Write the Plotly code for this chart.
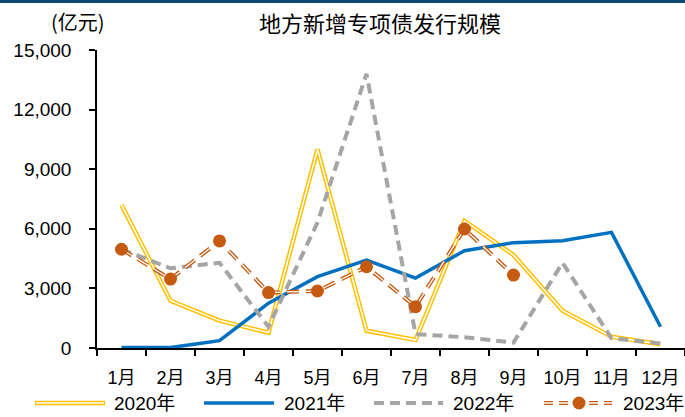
import plotly.graph_objects as go

months = ["1月", "2月", "3月", "4月", "5月", "6月", "7月", "8月", "9月", "10月", "11月", "12月"]
y2020 = [7200, 2380, 1380, 770, 10000, 870, 400, 6400, 4680, 1880, 570, 190]
y2021 = [20, 20, 370, 2260, 3590, 4430, 3520, 4900, 5300, 5400, 5820, 1070]
y2022 = [4970, 4010, 4290, 1070, 6320, 13800, 700, 540, 270, 4290, 490, 230]
y2023 = [4970, 3470, 5390, 2790, 2870, 4090, 2080, 5990, 3670]
series_names = ["2020年", "2021年", "2022年", "2023年"]

YEL = "#FFC000"
BLU = "#0070C0"
GRY = "#A5A5A5"
ORG = "#C55A11"

# plot-area geometry (pixels) used for converting decoration positions
L, R, T, B = 97, 685, 50, 348
W, H = R - L, B - T


def px(x):
    return (x - L) / W


def py(y):
    return (B - y) / H


fig = go.Figure()
fig.add_trace(go.Scatter(x=months, y=y2020, mode="lines", name=series_names[0],
                         line=dict(color=YEL, width=4.5)))
fig.add_trace(go.Scatter(x=months, y=y2020, mode="lines", hoverinfo="skip",
                         line=dict(color="white", width=1.5)))
fig.add_trace(go.Scatter(x=months, y=y2021, mode="lines", name=series_names[1],
                         line=dict(color=BLU, width=3.5)))
fig.add_trace(go.Scatter(x=months, y=y2022, mode="lines", name=series_names[2],
                         line=dict(color=GRY, width=4, dash="10px,6px")))
fig.add_trace(go.Scatter(x=months[:len(y2023)], y=y2023, mode="lines", name=series_names[3],
                         line=dict(color=ORG, width=4, dash="12px,7px")))
fig.add_trace(go.Scatter(x=months[:len(y2023)], y=y2023, mode="lines", hoverinfo="skip",
                         line=dict(color="white", width=1.3, dash="12px,7px")))
fig.add_trace(go.Scatter(x=months[:len(y2023)], y=y2023, mode="markers", hoverinfo="skip",
                         marker=dict(color=ORG, size=13)))

# manual legend (decoration)
ly = py(403)
shapes = [
    dict(type="rect", xref="paper", yref="paper", x0=px(0), x1=1, y0=py(3), y1=py(0),
         line=dict(width=0), fillcolor="#0B4A6E"),
    dict(type="line", xref="paper", yref="paper", x0=px(35), x1=px(105), y0=ly, y1=ly,
         line=dict(color=YEL, width=4.5)),
    dict(type="line", xref="paper", yref="paper", x0=px(36), x1=px(104), y0=ly, y1=ly,
         line=dict(color="white", width=1.5)),
    dict(type="line", xref="paper", yref="paper", x0=px(204), x1=px(274), y0=ly, y1=ly,
         line=dict(color=BLU, width=3.5)),
    dict(type="line", xref="paper", yref="paper", x0=px(374), x1=px(443), y0=ly, y1=ly,
         line=dict(color=GRY, width=4, dash="10px,6px")),
    dict(type="line", xref="paper", yref="paper", x0=px(544), x1=px(612), y0=ly, y1=ly,
         line=dict(color=ORG, width=4, dash="9px,6px")),
    dict(type="line", xref="paper", yref="paper", x0=px(544), x1=px(612), y0=ly, y1=ly,
         line=dict(color="white", width=1.3, dash="9px,6px")),
    dict(type="circle", xref="paper", yref="paper", xsizemode="pixel", ysizemode="pixel",
         xanchor=px(579), yanchor=ly, x0=-6.5, x1=6.5, y0=-6.5, y1=6.5,
         line=dict(width=0), fillcolor=ORG),
]

annotations = [
    dict(text="地方新增专项债发行规模", xref="paper", yref="paper", x=px(380), y=py(22),
         xanchor="center", yanchor="middle", showarrow=False,
         font=dict(family="Noto Sans CJK SC", size=22, color="black")),
    dict(text="(亿元)", xref="paper", yref="paper", x=px(78), y=py(22),
         xanchor="center", yanchor="middle", showarrow=False,
         font=dict(family="Noto Sans CJK SC", size=20, color="black")),
]
for name, xpos in zip(series_names, [112, 282, 451, 621]):
    annotations.append(dict(text=name, xref="paper", yref="paper", x=px(xpos), y=ly,
                            xanchor="left", yanchor="middle", showarrow=False,
                            font=dict(size=19, color="black")))

fig.update_layout(
    width=685, height=417,
    margin=dict(l=L, r=685 - R, t=T, b=417 - B, autoexpand=False),
    paper_bgcolor="white", plot_bgcolor="white",
    font=dict(family="Liberation Sans, Arial, Noto Sans CJK SC", size=16, color="black"),
    showlegend=False,
    xaxis=dict(type="category", range=[-0.5, 11.5], showline=True, linecolor="black", linewidth=1.5,
               ticks="outside", tickson="boundaries", ticklen=6, tickcolor="black", tickwidth=1.5,
               showgrid=False, zeroline=False, tickfont=dict(size=18), ticklabelstandoff=13),
    yaxis=dict(range=[0, 15000], dtick=3000, tickformat=",", showline=True, linecolor="black",
               linewidth=1.5, ticks="outside", ticklen=6, tickcolor="black", tickwidth=1.5,
               showgrid=False, zeroline=False, tickfont=dict(size=19), ticklabelstandoff=14),
    shapes=shapes,
    annotations=annotations,
)

fig.write_html("out.html")
